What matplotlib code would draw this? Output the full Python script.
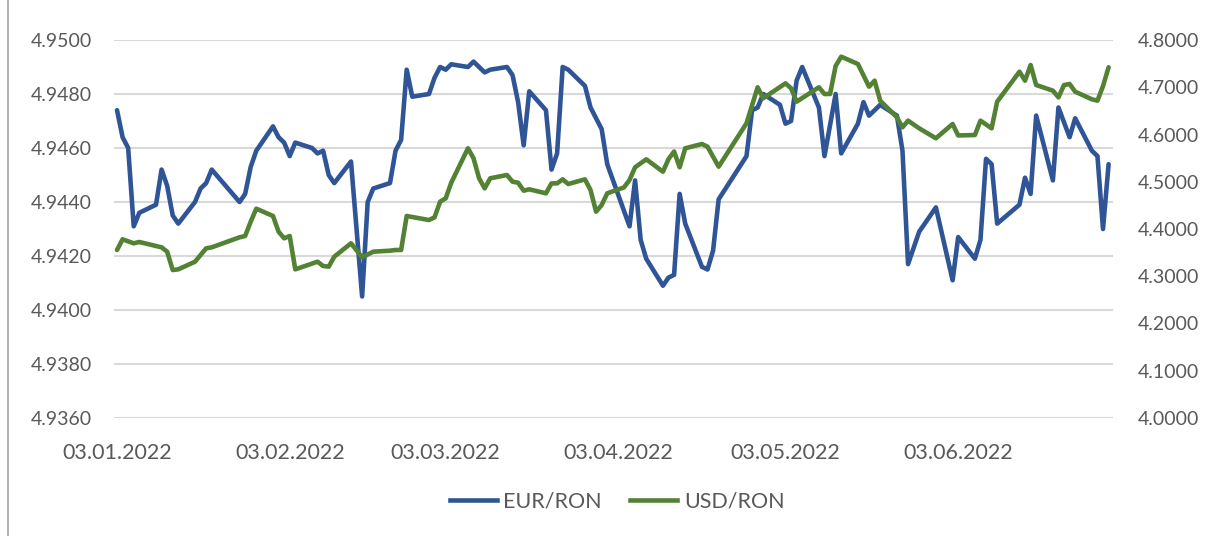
import matplotlib
matplotlib.use("Agg")
import matplotlib.pyplot as plt
import matplotlib.dates as mdates
from matplotlib.lines import Line2D
from matplotlib.ticker import FixedLocator, FuncFormatter
import pandas as pd

# ---------------- data ----------------
eur_dates = ["01-03", "01-04", "01-05", "01-06", "01-07", "01-10", "01-11", "01-12", "01-13", "01-14",
             "01-17", "01-18", "01-19", "01-20", "01-25", "01-26", "01-27", "01-28", "01-31",
             "02-01", "02-02", "02-03", "02-04", "02-07", "02-08", "02-09", "02-10", "02-11",
             "02-14", "02-16", "02-17", "02-18", "02-21", "02-22", "02-23", "02-24", "02-25", "02-28",
             "03-01", "03-02", "03-03", "03-04", "03-07", "03-08", "03-10", "03-11", "03-14", "03-15",
             "03-16", "03-17", "03-18", "03-21", "03-22", "03-23", "03-24", "03-25", "03-28", "03-29",
             "03-31", "04-01", "04-05", "04-06", "04-07", "04-08", "04-11", "04-12", "04-13", "04-14",
             "04-15", "04-18", "04-19", "04-20", "04-21", "04-26", "04-27", "04-28", "04-29",
             "05-02", "05-03", "05-04", "05-05", "05-06", "05-09", "05-10", "05-12", "05-13", "05-16",
             "05-17", "05-18", "05-20", "05-23", "05-24", "05-25", "05-27", "05-30",
             "06-02", "06-03", "06-06", "06-07", "06-08", "06-09", "06-10", "06-14", "06-15", "06-16",
             "06-17", "06-20", "06-21", "06-23", "06-24", "06-27", "06-28", "06-29", "06-30"]
eur_values = [4.9474, 4.9464, 4.9460, 4.9431, 4.9436, 4.9439, 4.9452, 4.9446, 4.9435, 4.9432,
              4.9440, 4.9445, 4.9447, 4.9452, 4.9440, 4.9443, 4.9453, 4.9459, 4.9468,
              4.9464, 4.9462, 4.9457, 4.9462, 4.9460, 4.9458, 4.9459, 4.9450, 4.9447,
              4.9455, 4.9405, 4.9440, 4.9445, 4.9447, 4.9459, 4.9463, 4.9489, 4.9479, 4.9480,
              4.9486, 4.9490, 4.9489, 4.9491, 4.9490, 4.9492, 4.9488, 4.9489, 4.9490, 4.9487,
              4.9477, 4.9461, 4.9481, 4.9474, 4.9452, 4.9458, 4.9490, 4.9489, 4.9483, 4.9475,
              4.9467, 4.9454, 4.9431, 4.9448, 4.9426, 4.9419, 4.9409, 4.9412, 4.9413, 4.9443,
              4.9432, 4.9416, 4.9415, 4.9422, 4.9441, 4.9457, 4.9474, 4.9475, 4.9480,
              4.9476, 4.9469, 4.9470, 4.9485, 4.9490, 4.9475, 4.9457, 4.9480, 4.9458, 4.9469,
              4.9477, 4.9472, 4.9476, 4.9472, 4.9459, 4.9417, 4.9429, 4.9438,
              4.9411, 4.9427, 4.9419, 4.9426, 4.9456, 4.9454, 4.9432, 4.9439, 4.9449, 4.9443,
              4.9472, 4.9448, 4.9475, 4.9464, 4.9471, 4.9459, 4.9457, 4.9430, 4.9454]

usd_dates = ["01-03", "01-04", "01-06", "01-07", "01-11", "01-12", "01-13", "01-14", "01-17", "01-19",
             "01-20", "01-25", "01-26", "01-27", "01-28", "01-31",
             "02-01", "02-02", "02-03", "02-04", "02-08", "02-09", "02-10", "02-11", "02-14", "02-16",
             "02-18", "02-21", "02-22", "02-23", "02-24", "02-28",
             "03-01", "03-02", "03-03", "03-04", "03-07", "03-08", "03-09", "03-10", "03-11", "03-14",
             "03-15", "03-16", "03-17", "03-18", "03-21", "03-22", "03-23", "03-24", "03-25", "03-28",
             "03-29", "03-30", "03-31", "04-01", "04-04", "04-05", "04-06", "04-08", "04-11", "04-12",
             "04-13", "04-14", "04-15", "04-18", "04-19", "04-21", "04-26", "04-28", "04-29",
             "05-03", "05-04", "05-05", "05-09", "05-10", "05-11", "05-12", "05-13", "05-16", "05-18",
             "05-19", "05-20", "05-23", "05-24", "05-25", "05-27", "05-30",
             "06-02", "06-03", "06-06", "06-07", "06-09", "06-10", "06-14", "06-15", "06-16", "06-17",
             "06-20", "06-21", "06-22", "06-23", "06-24", "06-27", "06-28", "06-29", "06-30"]
usd_values = [4.3556, 4.3782, 4.3697, 4.3725, 4.3612, 4.3520, 4.3132, 4.3146, 4.3308, 4.3591,
              4.3612, 4.3824, 4.3852, 4.4155, 4.4430, 4.4275,
              4.3944, 4.3803, 4.3852, 4.3146, 4.3308, 4.3217, 4.3203, 4.3414, 4.3697, 4.3401,
              4.3520, 4.3541, 4.3556, 4.3556, 4.4275, 4.4190,
              4.4247, 4.4578, 4.4649, 4.4980, 4.5708, 4.5496, 4.5073, 4.4861, 4.5073, 4.5143,
              4.5001, 4.4980, 4.4811, 4.4840, 4.4755, 4.4966, 4.4966, 4.5051, 4.4952, 4.5051,
              4.4825, 4.4367, 4.4508, 4.4755, 4.4880, 4.5037, 4.5306, 4.5475, 4.5213, 4.5480,
              4.5640, 4.5306, 4.5708, 4.5799, 4.5742, 4.5319, 4.6237, 4.6999, 4.6766,
              4.7083, 4.6978, 4.6695, 4.6999, 4.6857, 4.6857, 4.7450, 4.7647, 4.7492, 4.7012,
              4.7139, 4.6716, 4.6364, 4.6152, 4.6293, 4.6131, 4.5920,
              4.6222, 4.5980, 4.5989, 4.6293, 4.6131, 4.6695, 4.7329, 4.7139, 4.7471, 4.7047,
              4.6928, 4.6787, 4.7047, 4.7069, 4.6906, 4.6745, 4.6716, 4.7026, 4.7422]

x_tick_dates = ["2022-01-03", "2022-02-03", "2022-03-03", "2022-04-03", "2022-05-03", "2022-06-03"]
left_ticks = [4.9360, 4.9380, 4.9400, 4.9420, 4.9440, 4.9460, 4.9480, 4.9500]
right_ticks = [4.0, 4.1, 4.2, 4.3, 4.4, 4.5, 4.6, 4.7, 4.8]
series_names = ["EUR/RON", "USD/RON"]

# ---------------- styling ----------------
W, H = 1207, 536
BLUE = "#2F5597"
GREEN = "#548235"
GRID = "#D9D9D9"
TXT = "#595959"
FONT = "Lato"
FS = 15.5
FS_Y = 14.0
LW = 3.3

plt.rcParams["font.family"] = [FONT, "DejaVu Sans"]

fig = plt.figure(figsize=(W / 100, H / 100), dpi=100)
fig.patch.set_facecolor("white")
L, R, T, B = 114, 1113, 40, 418
ax = fig.add_axes([L / W, 1 - B / H, (R - L) / W, (B - T) / H])
ax2 = ax.twinx()

ed = pd.to_datetime(["2022-" + d for d in eur_dates])
ud = pd.to_datetime(["2022-" + d for d in usd_dates])

ax.plot(ed, eur_values, color=BLUE, lw=LW, solid_joinstyle="round", solid_capstyle="round", zorder=3)
ax2.plot(ud, usd_values, color=GREEN, lw=LW, solid_joinstyle="round", solid_capstyle="round", zorder=3)

ax.set_xlim(pd.Timestamp("2022-01-03") - pd.Timedelta(hours=13),
            pd.Timestamp("2022-06-30") + pd.Timedelta(hours=19))
ax.set_ylim(4.9360, 4.9500)
ax2.set_ylim(4.0, 4.8)

ax.yaxis.set_major_locator(FixedLocator(left_ticks))
ax.yaxis.set_major_formatter(FuncFormatter(lambda v, p: f"{v:.4f}"))
ax2.yaxis.set_major_locator(FixedLocator(right_ticks))
ax2.yaxis.set_major_formatter(FuncFormatter(lambda v, p: f"{v:.4f}"))

xt = pd.to_datetime(x_tick_dates)
ax.set_xticks(xt)
ax.xaxis.set_major_formatter(mdates.DateFormatter("%d.%m.%Y"))

for a in (ax, ax2):
    for s in a.spines.values():
        s.set_visible(False)
    a.tick_params(length=0, colors=TXT)
ax.tick_params(axis="x", labelsize=FS, pad=18)
ax.tick_params(axis="y", labelsize=FS_Y, pad=16)
ax2.tick_params(axis="y", labelsize=FS_Y, pad=18)

ax.grid(axis="y", color=GRID, lw=1.5, zorder=0)
ax.set_axisbelow(True)

handles = [Line2D([0], [0], color=BLUE, lw=LW), Line2D([0], [0], color=GREEN, lw=LW)]
leg = fig.legend(handles, series_names, loc="center", bbox_to_anchor=(617 / W, 1 - 502 / H),
                 ncol=2, frameon=False, fontsize=FS, labelcolor=TXT,
                 handlelength=2.2, handletextpad=0.3, columnspacing=1.3)

# outer chart border (left edge visible)
fig.add_artist(Line2D([8 / W, 8 / W], [0, 1], transform=fig.transFigure, color="#A6A6A6", lw=1.2))

fig.savefig("out.png", dpi=100, facecolor="white")
